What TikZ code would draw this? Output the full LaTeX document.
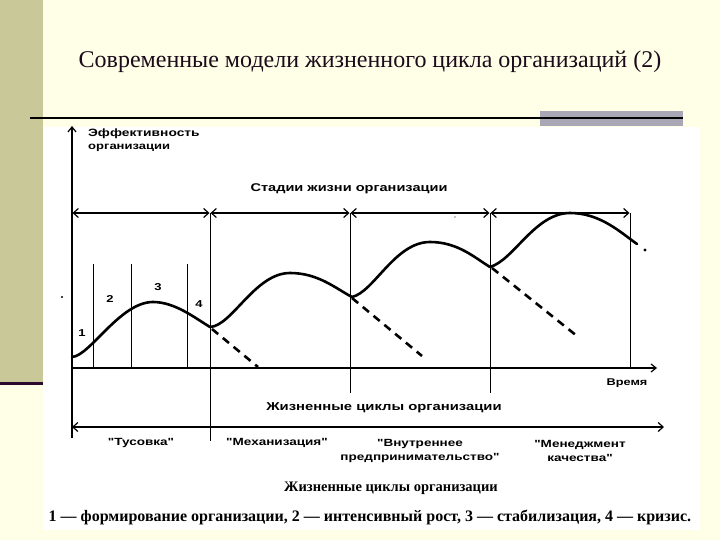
\documentclass[tikz,border=0pt]{standalone}
\usepackage{fontspec}
\setmainfont{Liberation Serif}
\newfontfamily\chartsans[FakeStretch=1.3]{Liberation Sans}
\usetikzlibrary{arrows.meta}
\definecolor{bgyellow}{HTML}{FFFFE8}
\definecolor{olivebar}{HTML}{C8C898}
\definecolor{graybar}{HTML}{A9A6B6}
\definecolor{darkline}{HTML}{2B0A2E}
\definecolor{titlecol}{HTML}{1A0A1A}
\tikzset{
  ax/.style={line width=1.3pt, black},
  vline/.style={line width=1pt, black},
  curve/.style={line width=2.6pt, black, line cap=round},
  dashcurve/.style={line width=2.6pt, black, dash pattern=on 8pt off 6pt},
  lbl/.style={font=\chartsans\bfseries, inner sep=0pt},
  num/.style={font=\chartsans\bfseries\fontsize{10}{12}\selectfont, inner sep=0pt},
  cyc/.style={font=\chartsans\bfseries\fontsize{10.4}{14}\selectfont, inner sep=0pt, align=center},
  barbs/.style={line width=1.1pt, {Straight Barb[length=5pt,width=9pt,line width=1.2pt]}-{Straight Barb[length=5pt,width=9pt,line width=1.2pt]}},
}
\begin{document}
\begin{tikzpicture}[x=1pt,y=-1pt]
\useasboundingbox (0,0) rectangle (720,540);
% background
\fill[bgyellow] (0,0) rectangle (720,540);
\fill[olivebar] (0,0) rectangle (43,383);
\fill[darkline] (0,381.5) rectangle (43,385);
\fill[graybar] (540,111) rectangle (683,126);
\draw[line width=2.2pt, black] (30,118) -- (683,118);
\fill[white] (43,127) rectangle (700,530);
% title
\node[titlecol, inner sep=0pt, font=\fontsize{24}{28}\selectfont] (title) at (370,62) {Современные модели жизненного цикла организаций (2)};

% coordinates
\coordinate (O) at (72,368);
\coordinate (ytop) at (72,126);
\coordinate (xend) at (657,368);
\coordinate (ybot) at (72,438);
% axes
\draw[ax, -{Straight Barb[length=5pt,width=8pt,line width=1.2pt]}] (ybot) -- (ytop);
\draw[ax, -{Straight Barb[length=5pt,width=8pt,line width=1.2pt]}] (O) -- (xend);
\node[lbl, font=\chartsans\bfseries\fontsize{10.6}{12}\selectfont, anchor=west] (eff) at (88,134) {Эффективность};
\node[lbl, font=\chartsans\bfseries\fontsize{10}{10}\selectfont, anchor=west] (org) at (88,148) {организации};
\node[lbl, font=\chartsans\bfseries\fontsize{11.2}{12}\selectfont] (stages) at (349,189) {Стадии жизни организации};
\node[lbl, font=\chartsans\bfseries\fontsize{9.8}{12}\selectfont] (time) at (627,383) {Время};

% stage boundaries
\coordinate (s0) at (72,213);
\coordinate (s1) at (210,213);
\coordinate (s2) at (350,213);
\coordinate (s3) at (490,213);
\coordinate (s4) at (630,213);
\draw[vline] (s1) -- (210,441);
\draw[vline] (s2) -- (350,393);
\draw[vline] (s3) -- (490,393);
\draw[vline] (s4) -- (630,368);
\foreach \a/\b in {s0/s1,s1/s2,s2/s3,s3/s4}{
  \draw[barbs, shorten <=0.5pt, shorten >=0.5pt] (\a) -- (\b);
}
% sub-stage lines
\foreach \x in {93,131,187}{
  \draw[vline] (\x,264) -- (\x,368);
}
% numbers
\node[num] (n1) at (82,333) {1};
\node[num] (n2) at (110,299) {2};
\node[num] (n3) at (158,287) {3};
\node[num] (n4) at (199,304) {4};

% main curve
\draw[curve] (72,357) .. controls (90,356) and (120,302) .. (153,302)
  .. controls (175,302) and (195,318) .. (210,327);
\draw[curve] (210,327) .. controls (232,326) and (255,273) .. (290,273)
  .. controls (318,273) and (335,288) .. (352,297);
\draw[curve] (352,297) .. controls (374,292) and (395,242) .. (430,242)
  .. controls (458,242) and (475,258) .. (490,267);
\draw[curve] (490,267) .. controls (514,260) and (535,213) .. (570,213)
  .. controls (600,213) and (620,232) .. (637,244);
\fill[black] (645,250) circle (1.6pt);
% dashed continuations
\draw[dashcurve] (212,329) -- (258,367);
\draw[dashcurve] (352,298) -- (422,356);
\draw[dashcurve] (492,268) -- (577,336);
% specks
\fill[black] (62,297) circle (1.2pt);
\fill[black] (455,217) circle (0.7pt);

% life cycles
\node[lbl, font=\chartsans\bfseries\fontsize{11.4}{12}\selectfont] (cycles) at (384,408) {Жизненные циклы организации};
\coordinate (c0) at (72,427);
\coordinate (c1) at (664,427);
\draw[barbs] (c0) -- (c1);
\node[cyc] (l1) at (141,443) {"Тусовка"};
\node[cyc] (l2) at (277,443) {"Механизация"};
\node[cyc] (l3) at (420,451) {"Внутреннее\\предпринимательство"};
\node[cyc] (l4) at (580,451) {"Менеджмент\\качества"};
\node[inner sep=0pt, font=\bfseries\fontsize{14.5}{16}\selectfont] (cap) at (391,488) {Жизненные циклы организации};
\node[inner sep=0pt, font=\bfseries\fontsize{16}{18}\selectfont] (legend) at (370,517) {1 — формирование организации, 2 — интенсивный рост, 3 — стабилизация, 4 — кризис.};
\end{tikzpicture}
\end{document}
